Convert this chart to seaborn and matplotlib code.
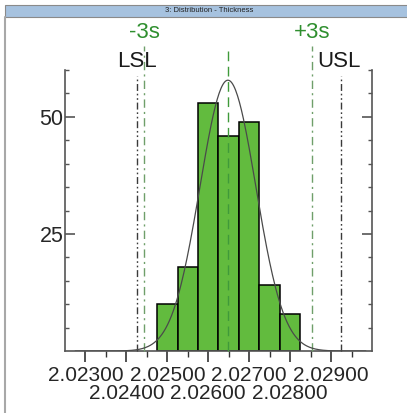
import numpy as np
import pandas as pd
import matplotlib
matplotlib.use("Agg")
import matplotlib.pyplot as plt
import seaborn as sns
from matplotlib.patches import Rectangle
from matplotlib.lines import Line2D
import matplotlib.transforms as mtransforms

# histogram counts (bin centres, 0.0005 wide)
bin_centers = [2.0250, 2.0255, 2.0260, 2.0265, 2.0270, 2.0275, 2.0280]
counts = [10, 18, 53, 46, 49, 14, 8]
bin_width = 0.0005

mean = 2.02648
sigma = 0.000683
lsl = 2.02425
usl = 2.02925

major_ticks = [2.0230, 2.0240, 2.0250, 2.0260, 2.0270, 2.0280, 2.0290]
tick_labels = ["2.02300", "2.02400", "2.02500", "2.02600", "2.02700", "2.02800", "2.02900"]

sns.set_style("white")
plt.rcParams['font.family'] = ['Liberation Sans', 'DejaVu Sans']

fig = plt.figure(figsize=(4.07, 4.13), dpi=100)
ax = fig.add_axes([0.1597, 0.150, 0.914 - 0.1597, 0.8305 - 0.150])

df = pd.DataFrame({"thickness": bin_centers, "count": counts})
sns.histplot(data=df, x="thickness", weights="count", bins=len(counts),
             binrange=(bin_centers[0] - bin_width / 2, bin_centers[-1] + bin_width / 2),
             ax=ax, color="#62bb3e", edgecolor="black", linewidth=1.1, alpha=1)

# fitted normal curve
n = sum(counts)
xs = np.linspace(2.02275, 2.02985, 300)
ys = n * bin_width / (sigma * np.sqrt(2 * np.pi)) * np.exp(-0.5 * ((xs - mean) / sigma) ** 2)
sns.lineplot(x=xs, y=ys, ax=ax, color="#4a4a4a", linewidth=0.9, zorder=5)

ax.set_xlim(2.0225, 2.0300)
ax.set_ylim(0, 60)

# reference lines
lo3, hi3 = mean - 3 * sigma, mean + 3 * sigma
for v in (lo3, hi3):
    ax.axvline(v, ymin=0, ymax=1.085, color="#6f9f6a", linewidth=1.0,
               linestyle=(0, (6, 3, 1.5, 3)), clip_on=False, zorder=4)
ax.axvline(mean, ymin=0, ymax=1.08, color="#3f9a3a", linewidth=1.0,
           linestyle=(0, (7, 4)), clip_on=False, zorder=6)
for v in (lsl, usl):
    ax.axvline(v, ymin=0, ymax=0.98, color="#3a3a3a", linewidth=1.0,
               linestyle=(0, (5, 2, 1.2, 2, 1.2, 2)), clip_on=False, zorder=4)

trans = mtransforms.blended_transform_factory(ax.transData, ax.transAxes)
ax.text(lo3, 1.135, "-3s", transform=trans, ha="center", va="center",
        fontsize=16, color="#2f8f2f")
ax.text(hi3, 1.135, "+3s", transform=trans, ha="center", va="center",
        fontsize=16, color="#2f8f2f")
ax.text(lsl, 1.03, "LSL", transform=trans, ha="center", va="center",
        fontsize=16, color="#1a1a1a")
ax.text(usl - 0.00005, 1.03, "USL", transform=trans, ha="center", va="center",
        fontsize=16, color="#1a1a1a")

# axes styling
for side in ("left", "right", "bottom"):
    ax.spines[side].set_visible(True)
    ax.spines[side].set_color("#555555")
    ax.spines[side].set_linewidth(1.2)
ax.spines["top"].set_visible(False)

ax.set_yticks([25, 50])
ax.set_yticks(np.arange(5, 61, 5), minor=True)
ax.set_yticklabels(["25", "50"])
ax.tick_params(axis="y", which="major", direction="in", length=7, width=1.2,
               color="#555555", labelsize=15.5, pad=1, left=True, right=True)
ax.tick_params(axis="y", which="minor", direction="in", length=3, width=1.0,
               color="#555555", left=True, right=True)

# x ticks: first row of labels on the main axis, second row on a secondary axis
ax.set_xticks(major_ticks)
ax.set_xticks(np.arange(2.0230, 2.0296, 0.0005), minor=True)
ax.set_xticklabels([t if i % 2 == 0 else "" for i, t in enumerate(tick_labels)])
ax.tick_params(axis="x", which="major", direction="out", length=8, width=1.2,
               color="#333333", labelsize=15, pad=3, bottom=True)
ax.tick_params(axis="x", which="minor", direction="out", length=4, width=1.0,
               color="#333333", bottom=True)
ax.set_xlabel("")
ax.set_ylabel("")
ax.grid(False)

sec = ax.secondary_xaxis("bottom")
sec.set_xticks(major_ticks[1::2])
sec.set_xticklabels(tick_labels[1::2])
sec.tick_params(axis="x", length=0, labelsize=15, pad=24)
sec.spines["bottom"].set_visible(False)

# window title bar
fig.patches.append(Rectangle((5 / 407, 1 - 17 / 413), 1, 12 / 413, transform=fig.transFigure,
                             facecolor="#a6c2df", edgecolor="#8a8a8a", linewidth=0.8))
fig.text(0.513, 1 - 11 / 413, "3: Distribution - Thickness", ha="center", va="center",
         fontsize=5.5, color="#222222")
fig.lines.append(Line2D([5 / 407, 5 / 407], [0, 1 - 17 / 413], transform=fig.transFigure,
                        color="#a8a8a8", linewidth=1.5))

fig.savefig("out.png", dpi=100)
